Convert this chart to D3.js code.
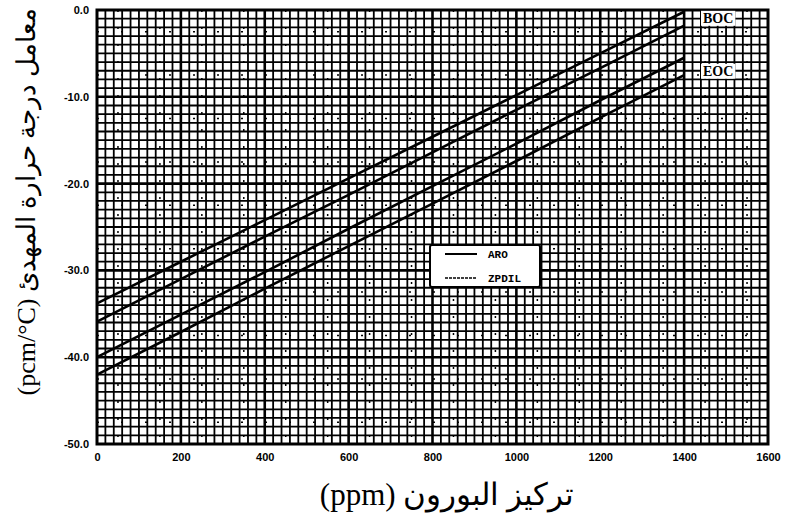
<!DOCTYPE html>
<html>
<head>
<meta charset="utf-8">
<script src="https://cdn.jsdelivr.net/npm/d3@7"></script>
<style>
  body { margin: 0; background: #fff; }
  .tick text { font-family: "Liberation Sans", Arial, sans-serif; font-weight: bold; }
</style>
</head>
<body>
<div id="chart"></div>
<script>
"use strict";

// boron concentration (ppm) where the lines were read
let boron = [0, 200, 400, 600, 800, 1000, 1200, 1400];
// moderator temperature coefficient (pcm/C)
let bocAro = [-33.8, -29.0, -24.2, -19.4, -14.6, -9.8, -5.0, -0.2];
let bocZpdil = [-35.9, -31.0, -26.1, -21.3, -16.4, -11.5, -6.7, -1.8];
let eocAro = [-40.0, -35.1, -30.2, -25.2, -20.3, -15.4, -10.4, -5.5];
let eocZpdil = [-42.0, -37.1, -32.1, -27.2, -22.3, -17.4, -12.4, -7.5];

let xTicks = [0, 200, 400, 600, 800, 1000, 1200, 1400, 1600];
let yTicks = [0, -10, -20, -30, -40, -50];
let legendNames = ["ARO", "ZPDIL"];

window.onload = function () {
    let width = 785;
    let height = 514;
    let left = 97, right = 768, top = 10, bottom = 444;

    let svg = d3.select("#chart").append("svg")
        .attr("width", width).attr("height", height);

    let xScale = d3.scaleLinear().domain([0, 1600]).range([left, right]);
    let yScale = d3.scaleLinear().domain([-50, 0]).range([bottom, top]);

    // sparse dotted texture inside the cells
    let grid = svg.append("g");
    grid.selectAll(".dotv").data(d3.range(50, 1600, 100)).enter().append("line")
        .attr("x1", d => xScale(d)).attr("x2", d => xScale(d))
        .attr("y1", top).attr("y2", bottom)
        .attr("stroke", "#000").attr("stroke-width", 1.5)
        .attr("stroke-dasharray", "2,15");
    grid.selectAll(".doth").data(d3.range(-47.5, 0, 5)).enter().append("line")
        .attr("x1", left).attr("x2", right)
        .attr("y1", d => yScale(d)).attr("y2", d => yScale(d))
        .attr("stroke", "#000").attr("stroke-width", 1.5)
        .attr("stroke-dasharray", "2,22");

    // main grid: every 20 ppm and every 1 pcm/C
    grid.selectAll(".gv").data(d3.range(20, 1600, 20)).enter().append("line")
        .attr("x1", d => xScale(d)).attr("x2", d => xScale(d))
        .attr("y1", top).attr("y2", bottom)
        .attr("stroke", "#000")
        .attr("stroke-width", d => d % 200 === 0 ? 2.6 : 1.8);
    grid.selectAll(".gh").data(d3.range(-49, 0, 1)).enter().append("line")
        .attr("x1", left).attr("x2", right)
        .attr("y1", d => yScale(d)).attr("y2", d => yScale(d))
        .attr("stroke", "#000")
        .attr("stroke-width", d => d % 10 === 0 ? 2.6 : 1.8);

    // frame
    svg.append("rect")
        .attr("x", left).attr("y", top)
        .attr("width", right - left).attr("height", bottom - top)
        .attr("fill", "none").attr("stroke", "#000").attr("stroke-width", 3);

    // axes
    let xAxis = svg.append("g").attr("transform", `translate(0,${bottom + 3})`)
        .call(d3.axisBottom(xScale).tickValues(xTicks).tickSize(0).tickPadding(6)
            .tickFormat(d3.format("d")));
    xAxis.select(".domain").remove();
    xAxis.selectAll("text").attr("font-size", 11).attr("fill", "#000");

    let yAxis = svg.append("g").attr("transform", `translate(${left - 5},0)`)
        .call(d3.axisLeft(yScale).tickValues(yTicks).tickSize(0).tickPadding(3));
    yAxis.select(".domain").remove();
    yAxis.selectAll("text").attr("font-size", 11).attr("fill", "#000")
        .text(d => d === 0 ? "0.0" : d.toFixed(1));

    // curves
    let line = d3.line().x(d => xScale(d[0])).y(d => yScale(d[1]));
    let series = [bocAro, bocZpdil, eocAro, eocZpdil];
    series.forEach(function (vals) {
        svg.append("path")
            .datum(boron.map((b, i) => [b, vals[i]]))
            .attr("d", line)
            .attr("fill", "none").attr("stroke", "#000").attr("stroke-width", 2.6);
    });

    // BOC / EOC labels on white patches
    [["BOC", -0.9], ["EOC", -7.0]].forEach(function (lab) {
        let bg = svg.append("rect").attr("fill", "#fff");
        let t = svg.append("text")
            .attr("x", xScale(1445)).attr("y", yScale(lab[1]) + 5)
            .attr("font-family", "Liberation Serif, serif").attr("font-weight", "bold")
            .attr("font-size", 14).text(lab[0]);
        let bb = t.node().getBBox();
        bg.attr("x", bb.x - 2).attr("y", bb.y).attr("width", bb.width + 4).attr("height", bb.height);
    });

    // legend
    let lg = svg.append("g").attr("transform", "translate(430,245)");
    lg.append("rect").attr("width", 110).attr("height", 42).attr("rx", 2)
        .attr("fill", "#fff").attr("stroke", "#000").attr("stroke-width", 2);
    legendNames.forEach(function (name, i) {
        lg.append("line").attr("x1", 15).attr("x2", 47)
            .attr("y1", 9 + i * 24).attr("y2", 9 + i * 24)
            .attr("stroke", "#000").attr("stroke-width", i === 0 ? 2 : 1.6)
            .attr("stroke-dasharray", i === 0 ? null : "3,1");
        lg.append("text").attr("x", 58).attr("y", 13 + i * 24)
            .attr("font-family", "Liberation Mono, monospace").attr("font-weight", "bold")
            .attr("font-size", 11).text(name);
    });

    // axis titles
    svg.append("text")
        .attr("x", 447).attr("y", 505)
        .attr("text-anchor", "middle").attr("direction", "rtl")
        .attr("font-family", "Liberation Serif, serif").attr("font-size", 31)
        .text("تركيز البورون (ppm)");

    svg.append("text")
        .attr("transform", "translate(35,202) rotate(-90)")
        .attr("text-anchor", "middle").attr("direction", "rtl")
        .attr("font-family", "Liberation Serif, serif").attr("font-size", 26)
        .text("معامل درجة حرارة المهدئ (pcm/\u00B0C)");
};
</script>
</body>
</html>
